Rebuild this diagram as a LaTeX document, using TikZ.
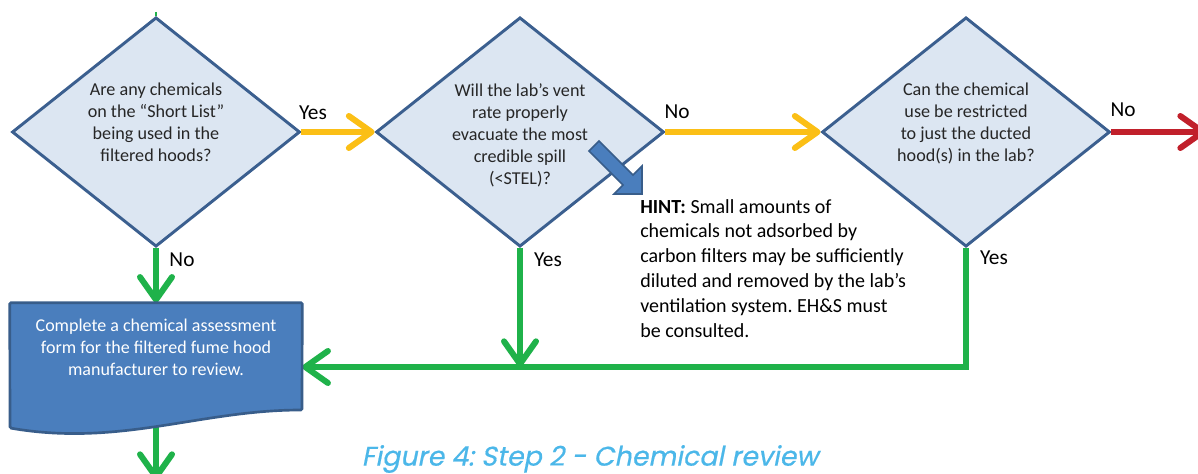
\documentclass[tikz,border=0pt]{standalone}
\usepackage{fontspec}
\setmainfont{Carlito}
\newfontfamily\capfont[FakeSlant=0.2,FakeBold=0.6]{Poppins}
\usetikzlibrary{shapes.geometric,arrows.meta}
\definecolor{dfill}{HTML}{DCE6F2}
\definecolor{dline}{HTML}{3B5F8F}
\definecolor{ayel}{HTML}{FBBF16}
\definecolor{agrn}{HTML}{1FB24A}
\definecolor{ared}{HTML}{C1202B}
\definecolor{bfill}{HTML}{4A7EBD}
\definecolor{bline}{HTML}{385D8A}
\definecolor{capc}{HTML}{4BB7E9}
\frenchspacing
\begin{document}
\begin{tikzpicture}[x=0.75pt,y=-0.75pt,
 dec/.style={diamond, draw=dline, fill=dfill, line width=2.2pt, minimum width=216pt, minimum height=172pt, inner sep=0pt},
 qtext/.style={anchor=north, align=center, font=\fontsize{13.6}{16.5}\selectfont, text=black!85, inner sep=0pt},
 conn/.style={line width=4.5pt, -{Straight Barb[length=17pt,width=24pt,round]}},
 lbl/.style={font=\fontsize{16}{18}\selectfont, inner sep=0pt},
 blockarrow/.style={fill=bfill, draw=bline, line width=1.2pt, line join=miter},
]
\useasboundingbox (0,0) rectangle (1198,474);
\clip (0,0) rectangle (1198,474);
\fill[white] (0,0) rectangle (1198,474);

% decisions
\node[dec] (d1) at (156,132) {};
\node[dec] (d2) at (520,132) {};
\node[dec] (d3) at (966,132) {};
\node[qtext] (t1) at (156,83) {Are any chemicals\\on the “Short List”\\being used in the\\filtered hoods?};
\node[qtext] (t2) at (520,83) {Will the lab’s vent\\rate properly\\evacuate the most\\credible spill\\(<STEL)?};
\node[qtext] (t3) at (966,83) {Can the chemical\\use be restricted\\to just the ducted\\hood(s) in the lab?};

% process box anchor (drawn later)
\node[minimum width=219pt, minimum height=96pt, inner sep=0pt] (box) at (156,367) {};

% coordinates for free ends
\coordinate (topin) at (156,12);
\coordinate (redend) at (1206,132);
\coordinate (botend) at (156,480);

% connectors
\draw[agrn, line width=2pt] (topin) -- (d1.north);
\draw[conn, ayel] (d1.east) -- (d2.west);
\draw[conn, ayel] (d2.east) -- (d3.west);
\draw[conn, ared] (d3.east) -- (redend);
\draw[conn, agrn] (d1.south) -- (box.north);
\draw[conn, agrn] (d2.south) -- (d2.south |- box.east);
\draw[conn, agrn] (d3.south) |- (box.east);
\draw[conn, agrn] (box.center) -- (botend);

% document shape
\coordinate (br) at (302,410);
\coordinate (bl) at (10,428);
\draw[fill=bfill, draw=bline, line width=2pt, rounded corners=1pt]
  (box.north west) -- (box.north east) -- (br)
  .. controls (200,410) and (120,447) .. (bl) -- cycle;
\node[anchor=north, align=center, text=white, inner sep=0pt,
      font=\fontsize{13.5}{16.5}\selectfont] (bt) at (156,319)
  {Complete a chemical assessment\\form for the filtered fume hood\\manufacturer to review.};

% labels
\node[lbl] (l1) at (313,113) {Yes};
\node[lbl] (l2) at (677,112) {No};
\node[lbl] (l3) at (1123,110) {No};
\node[lbl] (l4) at (182,260) {No};
\node[lbl] (l5) at (548,260) {Yes};
\node[lbl] (l6) at (994,258) {Yes};

% hint arrow
\draw[blockarrow] (599,141) -- (589,151) -- (623,185) -- (614,194) -- (642,194) -- (642,166) -- (633,175) -- cycle;
\node[anchor=north west, align=left, inner sep=0pt,
      font=\fontsize{15}{18.6}\selectfont] (hint) at (640,199)
  {\textbf{HINT:} Small amounts of\\chemicals not adsorbed by\\carbon filters may be sufficiently\\diluted and removed by the lab’s\\ventilation system. EH\&S must\\be consulted.};

% caption
\node[text=capc, font=\capfont\fontsize{20.2}{22}\selectfont, inner sep=0pt] (cap) at (590,459) {Figure 4: Step 2 - Chemical review};
\end{tikzpicture}
\end{document}
